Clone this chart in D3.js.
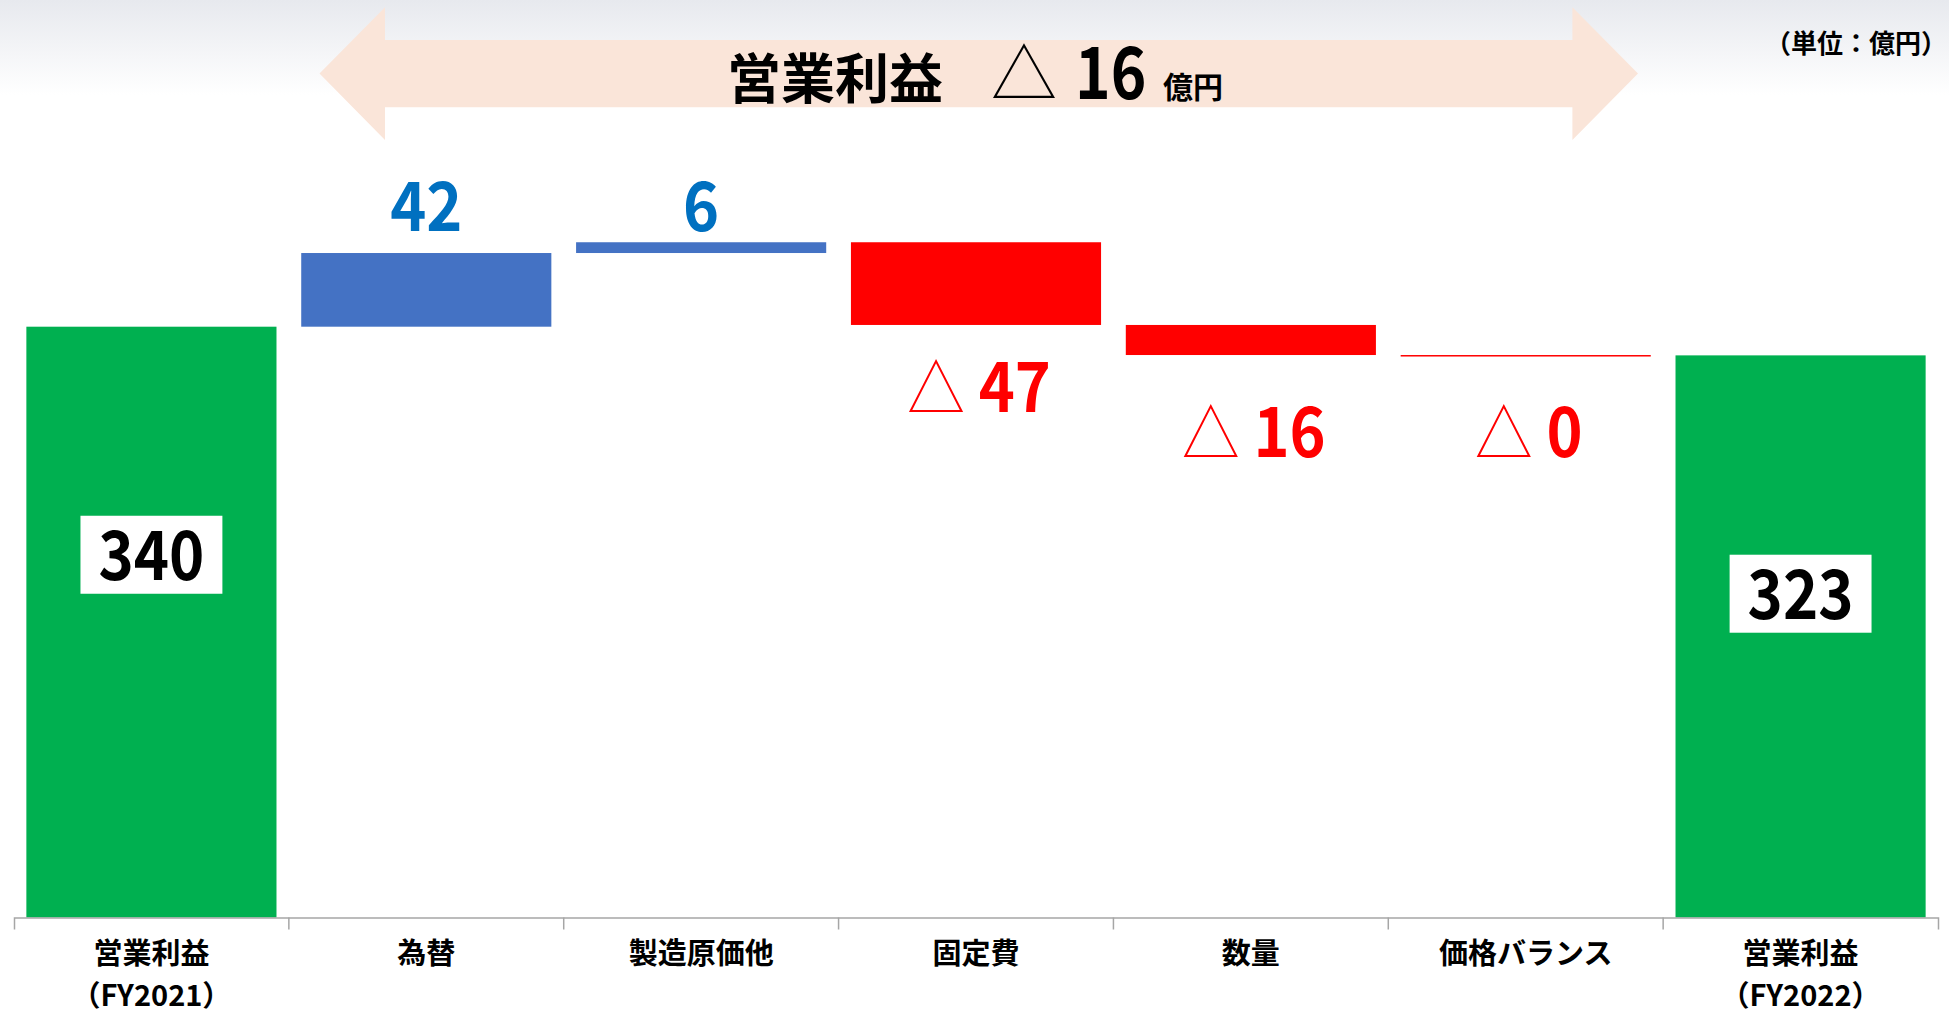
<!DOCTYPE html>
<html>
<head>
<meta charset="utf-8">
<script src="https://cdn.jsdelivr.net/npm/d3@7"></script>
<style>
  html, body { margin: 0; padding: 0; background: #ffffff; }
  svg { display: block; }
  text { font-family: "Noto Sans CJK JP", "Noto Sans", sans-serif; }
</style>
</head>
<body>
<div id="chart"></div>
<script>
// ---------------- data ----------------
const categories = ["営業利益（FY2021）", "為替", "製造原価他", "固定費", "数量", "価格バランス", "営業利益（FY2022）"];
const categoryLines = [["営業利益", "（FY2021）"], ["為替"], ["製造原価他"], ["固定費"], ["数量"], ["価格バランス"], ["営業利益", "（FY2022）"]];
const startValue = 340;
const deltaValues = [42.4, 6.2, -47.6, -17.3, -0.2];
const endValue = 323.5;
const deltaLabels = ["42", "6", "47", "16", "0"];
const totalLabels = ["340", "323"];
const titleText = "営業利益";
const titleDelta = "16";
const titleUnit = "億円";
const unitNote = "（単位：億円）";

// ---------------- layout ----------------
const W = 1949, H = 1016;
const svg = d3.select("#chart").append("svg").attr("width", W).attr("height", H);

const defs = svg.append("defs");
const bg = defs.append("linearGradient").attr("id", "bgGrad").attr("x1", 0).attr("y1", 0).attr("x2", 0).attr("y2", 1);
bg.append("stop").attr("offset", "0%").attr("stop-color", "#e7e9ee");
bg.append("stop").attr("offset", "100%").attr("stop-color", "#ffffff");
svg.append("rect").attr("x", 0).attr("y", 0).attr("width", W).attr("height", 95).attr("fill", "url(#bgGrad)");

const x = d3.scaleBand().domain(categories).range([14, 1938]).paddingInner(0.09).paddingOuter(0.045);
const y = d3.scaleLinear().domain([0, startValue]).range([917.5, 326.7]);

// waterfall segments
const segs = [];
segs.push({ cat: categories[0], y0: 0, y1: startValue, type: "total", label: totalLabels[0] });
let cum = startValue;
deltaValues.forEach((d, i) => {
  segs.push({ cat: categories[i + 1], y0: cum, y1: cum + d, type: d >= 0 ? "pos" : "neg", label: deltaLabels[i], idx: i });
  cum += d;
});
segs.push({ cat: categories[6], y0: 0, y1: endValue, type: "total", label: totalLabels[1] });

const colors = { total: "#00B050", pos: "#4472C4", neg: "#FF0000" };

svg.append("g").selectAll("rect").data(segs).join("rect")
  .attr("x", d => x(d.cat))
  .attr("width", x.bandwidth())
  .attr("y", d => y(Math.max(d.y0, d.y1)))
  .attr("height", d => Math.max(1.5, Math.abs(y(d.y0) - y(d.y1))))
  .attr("fill", d => colors[d.type]);

// ---------------- title arrow ----------------
const arrowPts = [[319.5, 73.5], [385, 7.3], [385, 40], [1572.4, 40], [1572.4, 7.3], [1638, 73.5], [1572.4, 140], [1572.4, 107.3], [385, 107.3], [385, 140]];
svg.append("polygon").attr("points", arrowPts.map(p => p.join(",")).join(" ")).attr("fill", "#FAE5D9");

svg.append("text").attr("x", 727).attr("y", 99).attr("font-size", 54).attr("font-weight", 700).attr("fill", "#000").text(titleText);
svg.append("text").attr("x", 991).attr("y", 98).attr("font-size", 66).attr("font-weight", 300).attr("fill", "#000").text("△");
svg.append("g").attr("transform", "translate(1075,99) scale(0.84,1)")
  .append("text").attr("x", 0).attr("y", 0).attr("font-size", 72).attr("font-weight", 700).attr("fill", "#000").text(titleDelta);
svg.append("text").attr("x", 1163).attr("y", 98).attr("font-size", 30).attr("font-weight", 700).attr("fill", "#000").text(titleUnit);

svg.append("text").attr("x", 1947).attr("y", 53).attr("text-anchor", "end")
  .attr("font-size", 26).attr("font-weight", 700).attr("fill", "#000").text(unitNote);

// ---------------- axis ----------------
const axisY = y(0);
const axisG = svg.append("g").attr("transform", `translate(0,${axisY})`)
  .call(d3.axisBottom(x).tickSizeInner(0).tickSizeOuter(12).tickFormat(""));
axisG.select(".domain").attr("stroke", "#A6A6A6").attr("stroke-width", 1.5);
const step = x.step();
const boundaries = categories.slice(1).map(c => x(c) - x.paddingInner() * step / 2);
svg.append("g").selectAll("line").data(boundaries).join("line")
  .attr("x1", d => d).attr("x2", d => d)
  .attr("y1", axisY).attr("y2", axisY + 12)
  .attr("stroke", "#A6A6A6").attr("stroke-width", 1.5);

// category labels (one text per line)
const catG = svg.append("g");
categories.forEach((c, i) => {
  categoryLines[i].forEach((line, j) => {
    catG.append("text").attr("text-anchor", "middle").attr("font-size", 29).attr("font-weight", 700).attr("fill", "#000")
      .attr("x", x(c) + x.bandwidth() / 2).attr("y", 964 + j * 42).text(line);
  });
});

// ---------------- value labels ----------------
const maxTop = d3.min(segs.filter(s => s.type === "pos"), s => y(Math.max(s.y0, s.y1)));
const negGaps = [87, 102, 102];
segs.filter(s => s.type !== "total").forEach(s => {
  const cx = x(s.cat) + x.bandwidth() / 2;
  if (s.type === "pos") {
    svg.append("g").attr("transform", `translate(${cx},${maxTop - 11}) scale(0.9,1)`)
      .append("text").attr("x", 0).attr("y", 0).attr("text-anchor", "middle")
      .attr("font-size", 68).attr("font-weight", 700).attr("fill", "#0070C0").text(s.label);
  } else {
    const ni = s.idx - 2;
    const t = svg.append("g").attr("transform", `translate(${cx + 3},${y(Math.min(s.y0, s.y1)) + negGaps[ni]}) scale(0.9,1)`)
      .append("text").attr("x", 0).attr("y", 0).attr("text-anchor", "middle").attr("fill", "#FF0000");
    t.append("tspan").attr("font-size", 64).attr("font-weight", 300).text("△");
    t.append("tspan").attr("font-size", 68).attr("font-weight", 700).text(" " + s.label);
  }
});

// total labels in white boxes
const boxFracs = [0.614, 0.576];
const totalScale = 0.88;
segs.filter(s => s.type === "total").forEach((s, i) => {
  const cx = x(s.cat) + x.bandwidth() / 2;
  const cy = y(s.y1 * boxFracs[i]);
  const g = svg.append("g");
  const rect = g.append("rect").attr("fill", "#ffffff");
  const t = g.append("g").attr("transform", `translate(${cx},${cy + 25}) scale(${totalScale},1)`)
    .append("text").attr("x", 0).attr("y", 0).attr("text-anchor", "middle")
    .attr("font-size", 68).attr("font-weight", 700).attr("fill", "#000").text(s.label);
  const bb = t.node().getBBox();
  const bw = bb.width * totalScale + 36;
  rect.attr("x", cx - bw / 2).attr("y", cy - 39).attr("width", bw).attr("height", 78);
});
</script>
</body>
</html>
